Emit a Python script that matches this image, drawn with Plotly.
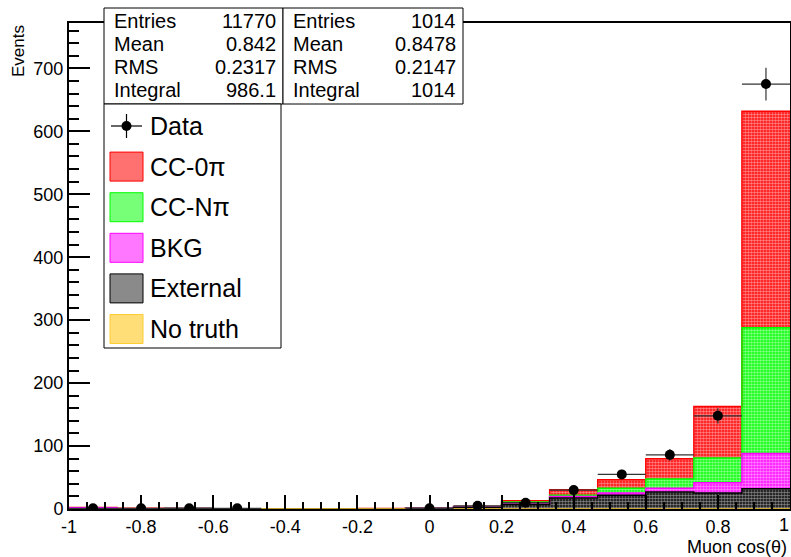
import numpy as np
import plotly.graph_objects as go

# ---- binning: 15 bins in muon cos(theta) ----
bin_edges = np.linspace(-1.0, 1.0, 16)
bin_centers = 0.5 * (bin_edges[:-1] + bin_edges[1:])
bin_width = bin_edges[1] - bin_edges[0]

# ---- MC components (events per bin), stacked bottom -> top ----
no_truth = [0, 0, 0.4, 0, 0, 0, 0, 0, 0, 0, 0, 0, 0, 0, 0]
external = [0, 0, 0.2, 0.5, 0.3, 0.3, 0.5, 0.8, 2.5, 7.0, 17.5, 22.0, 27.0, 25.5, 32.0]
bkg = [2.0, 0.3, 0, 0, 0, 0, 0, 0.2, 0.7, 1.0, 2.5, 3.5, 6.0, 16.0, 56.0]
cc_npi = [0, 0, 0, 0, 0, 0, 0, 0, 0.3, 3.0, 2.0, 7.6, 14.6, 39.5, 200.0]
cc_0pi = [0.3, 1.0, 0, 0, 0, 0, 0.2, 0.3, 0.5, 2.0, 8.6, 13.5, 32.4, 82.0, 344.0]

# ---- data counts ----
data_counts = [1, 1, 1, 1, 0, 0, 0, 1, 5, 10, 30, 55, 86, 148, 675]

# ---- statistics boxes ----
mc_stats = [("Entries", "11770"), ("Mean", "0.842"), ("RMS", "0.2317"), ("Integral", "986.1")]
data_stats = [("Entries", "1014"), ("Mean", "0.8478"), ("RMS", "0.2147"), ("Integral", "1014")]

# ---- axis ticks ----
x_tick_vals = [-1, -0.8, -0.6, -0.4, -0.2, 0, 0.2, 0.4, 0.6, 0.8, 1]
x_tick_text = ["-1", "-0.8", "-0.6", "-0.4", "-0.2", "0", "0.2", "0.4", "0.6", "0.8", "1"]
y_tick_vals = [0, 100, 200, 300, 400, 500, 600, 700]
y_tick_text = ["0", "100", "200", "300", "400", "500", "600", "700"]

FONT = "Liberation Sans, Arial, Helvetica, sans-serif"

# layer definitions: (name, values, colour, pattern-blended swatch colour)
layers = [
    ("No truth", no_truth, "#ffcc33", "#ffdd77"),
    ("External", external, "#000000", "#8a8a8a"),
    ("BKG", bkg, "#ff00ff", "#ff77ff"),
    ("CC-Nπ", cc_npi, "#00ff00", "#77ff77"),
    ("CC-0π", cc_0pi, "#ff0000", "#ff7070"),
]

# page geometry (pixels) of the plotting frame
W, H = 791, 557
L, R, T, B = 69, 1, 23, 48
PW, PH = W - L - R, H - T - B


def px(x):
    return (x - L) / PW


def py(y):
    return (H - B - y) / PH


fig = go.Figure()

# stacked filled bins
for name, vals, col, _ in layers:
    fig.add_trace(go.Bar(
        x=bin_centers, y=vals, width=bin_width, name=name,
        marker=dict(color=col, line=dict(width=0),
                    pattern=dict(shape=".", fgcolor="white", bgcolor=col,
                                 size=3, solidity=0.6, fillmode="overlay")),
        showlegend=False, hoverinfo="skip",
    ))

# step outlines of each cumulative layer (drawn top layer first)
cum = np.cumsum(np.array([l[1] for l in layers], dtype=float), axis=0)
for i in reversed(range(len(layers))):
    tops = cum[i]
    fig.add_trace(go.Scatter(
        x=bin_edges, y=np.append(tops, tops[-1]), mode="lines",
        line=dict(color=layers[i][2], width=1.5, shape="hv"),
        showlegend=False, hoverinfo="skip",
    ))

# data points with Poisson errors (empty bins not drawn)
dc = np.array(data_counts, dtype=float)
keep = dc > 0
fig.add_trace(go.Scatter(
    x=bin_centers[keep], y=dc[keep], mode="markers",
    marker=dict(color="black", size=10),
    error_y=dict(type="data", array=np.sqrt(dc[keep]), color="#333333", thickness=1.2, width=0),
    error_x=dict(type="data", array=np.full(keep.sum(), bin_width / 2), color="#333333",
                 thickness=1.2, width=0),
    showlegend=False, name="Data",
))

shapes = []
annotations = []

# statistics boxes
def stat_box(x0, x1, rows):
    shapes.append(dict(type="rect", xref="paper", yref="paper", x0=px(x0), x1=px(x1),
                       y0=py(104), y1=py(8), fillcolor="white",
                       line=dict(color="black", width=1), layer="above"))
    for k, (lab, val) in enumerate(rows):
        yc = 20.5 + k * 23.3
        annotations.append(dict(xref="paper", yref="paper", x=px(x0 + 8), y=py(yc),
                                text=lab, showarrow=False, xanchor="left", yanchor="middle",
                                font=dict(family=FONT, size=20, color="black")))
        annotations.append(dict(xref="paper", yref="paper", x=px(x1 - 5), y=py(yc),
                                text=val, showarrow=False, xanchor="right", yanchor="middle",
                                font=dict(family=FONT, size=20, color="black")))

stat_box(104, 283, mc_stats)
stat_box(283, 463, data_stats)

# legend box
shapes.append(dict(type="rect", xref="paper", yref="paper", x0=px(104), x1=px(281),
                   y0=py(348), y1=py(104), fillcolor="white",
                   line=dict(color="black", width=1), layer="above"))
leg_rows = [126 + 40.6 * k for k in range(6)]
# data entry
yd = leg_rows[0]
shapes.append(dict(type="line", xref="paper", yref="paper", x0=px(111), x1=px(142),
                   y0=py(yd), y1=py(yd), line=dict(color="black", width=1.2), layer="above"))
shapes.append(dict(type="line", xref="paper", yref="paper", x0=px(126.5), x1=px(126.5),
                   y0=py(yd - 12), y1=py(yd + 12), line=dict(color="black", width=1.2), layer="above"))
shapes.append(dict(type="circle", xref="paper", yref="paper", x0=px(121.5), x1=px(131.5),
                   y0=py(yd + 5), y1=py(yd - 5), fillcolor="black",
                   line=dict(color="black", width=0), layer="above"))
annotations.append(dict(xref="paper", yref="paper", x=px(148), y=py(yd), text="Data",
                        showarrow=False, xanchor="left", yanchor="middle",
                        font=dict(family=FONT, size=25, color="black")))
legend_order = ["CC-0π", "CC-Nπ", "BKG", "External", "No truth"]
lookup = {l[0]: l for l in layers}
for k, name in enumerate(legend_order):
    yc = leg_rows[k + 1]
    _, _, col, swatch = lookup[name]
    shapes.append(dict(type="rect", xref="paper", yref="paper", x0=px(110), x1=px(143),
                       y0=py(yc + 14.5), y1=py(yc - 14.5), fillcolor=swatch,
                       line=dict(color=col, width=1), layer="above"))
    annotations.append(dict(xref="paper", yref="paper", x=px(148), y=py(yc), text=name,
                            showarrow=False, xanchor="left", yanchor="middle",
                            font=dict(family=FONT, size=25, color="black")))

# the label of the last x tick sits flush against the right page edge
axis_tick_text = x_tick_text[:-1] + [""]
annotations.append(dict(xref="paper", yref="paper", x=px(791), y=py(525), text=x_tick_text[-1],
                        showarrow=False, xanchor="right", yanchor="middle",
                        font=dict(family=FONT, size=18, color="black")))

# axis titles
annotations.append(dict(xref="paper", yref="paper", x=px(18), y=1.0, text="Events",
                        textangle=-90, showarrow=False, xanchor="center", yanchor="top",
                        font=dict(family=FONT, size=17, color="black")))
annotations.append(dict(xref="paper", yref="paper", x=px(789), y=py(546.5), text="Muon cos(θ)",
                        showarrow=False, xanchor="right", yanchor="middle",
                        font=dict(family=FONT, size=18, color="black")))

fig.update_layout(
    width=W, height=H, margin=dict(l=L, r=R, t=T, b=B, autoexpand=False),
    paper_bgcolor="white", plot_bgcolor="white",
    barmode="stack", bargap=0, showlegend=False,
    shapes=shapes, annotations=annotations,
    font=dict(family=FONT, size=18, color="black"),
)
fig.update_xaxes(
    range=[-1, 1], tickmode="array", tickvals=x_tick_vals, ticktext=axis_tick_text,
    ticks="inside", ticklen=14, tickwidth=2, tickcolor="black",
    minor=dict(tickmode="linear", tick0=-1, dtick=0.05, ticks="inside", ticklen=7,
               tickwidth=2, tickcolor="black"),
    showline=True, linecolor="black", linewidth=2, mirror=True, automargin=False,
    showgrid=False, zeroline=False, ticklabelstandoff=0,
    tickfont=dict(family=FONT, size=18, color="black"),
)
fig.update_yaxes(
    range=[0, 772], tickmode="array", tickvals=y_tick_vals, ticktext=y_tick_text,
    ticks="inside", ticklen=21, tickwidth=2, tickcolor="black",
    minor=dict(tickmode="linear", tick0=0, dtick=20, ticks="inside", ticklen=10,
               tickwidth=2, tickcolor="black"),
    showline=True, linecolor="black", linewidth=2, mirror=True, automargin=False,
    showgrid=False, zeroline=False,
    tickfont=dict(family=FONT, size=18, color="black"),
)

fig.write_html("out.html")
